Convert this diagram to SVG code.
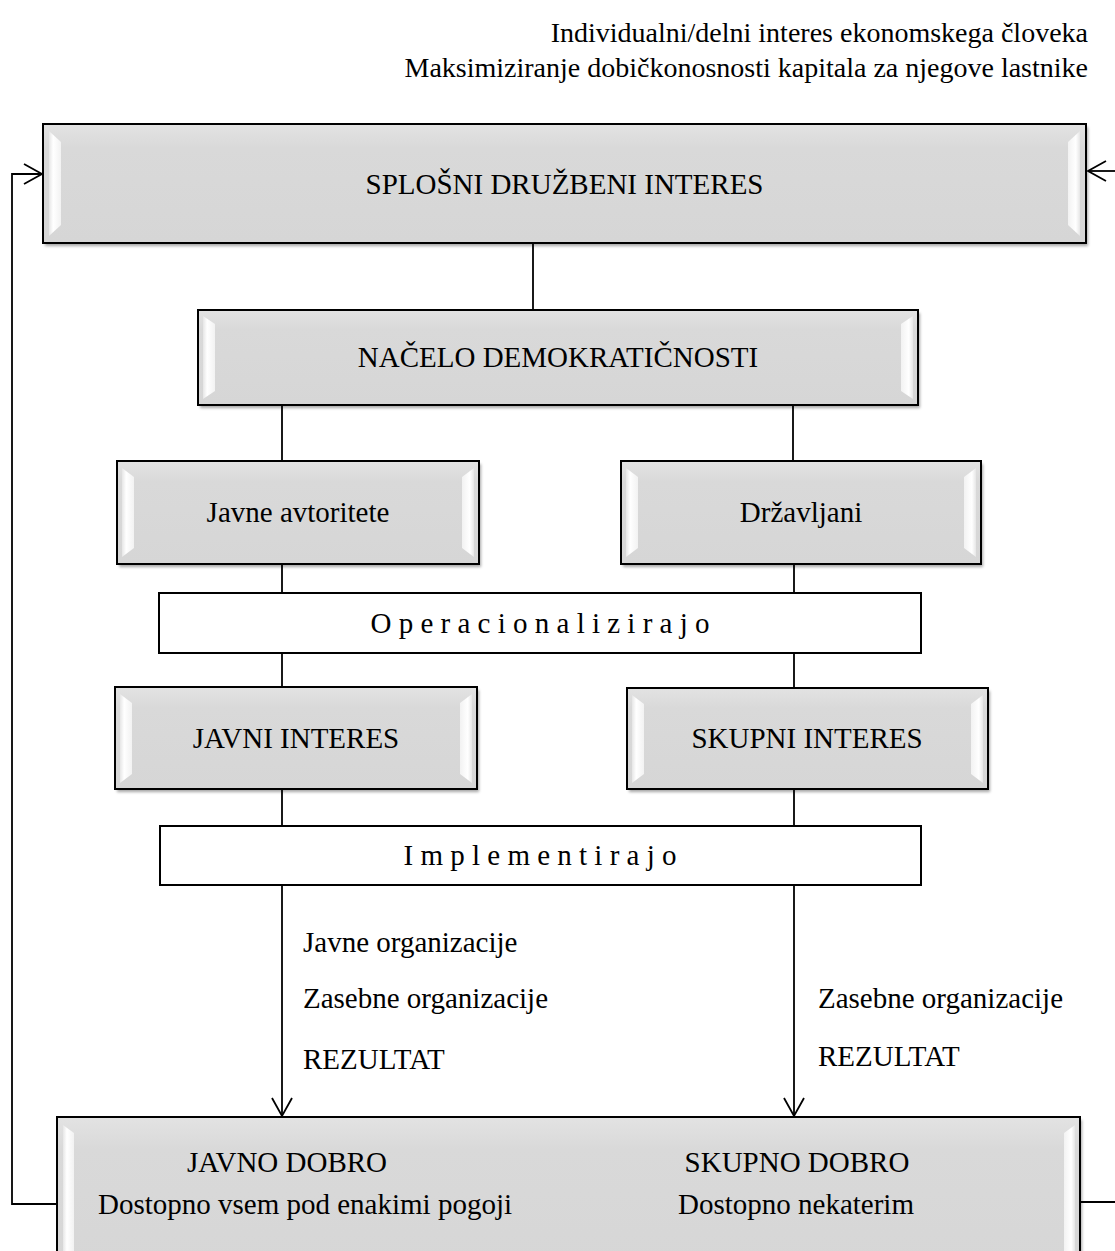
<svg xmlns="http://www.w3.org/2000/svg" width="1115" height="1251" viewBox="0 0 1115 1251">
<defs>
<style>
text{font-family:"Liberation Serif","Times New Roman",serif;font-size:29px;fill:#000}
.c{text-anchor:middle}
.r{text-anchor:end}
.box{fill:url(#face);stroke:#000;stroke-width:2}
.wbox{fill:#fff;stroke:#000;stroke-width:2}
.sh{fill:#000;opacity:.35;filter:url(#blur)}
.bl{fill:url(#bevL)}
.br{fill:url(#bevR)}
.ln{fill:none;stroke:#000;stroke-width:1.8}
</style>
<linearGradient id="face" x1="0" y1="0" x2="0" y2="1">
<stop offset="0" stop-color="#e3e3e3"/>
<stop offset="0.2" stop-color="#d9d9d9"/>
<stop offset="1" stop-color="#d6d6d6"/>
</linearGradient>
<linearGradient id="bevL" x1="0" y1="0" x2="1" y2="0">
<stop offset="0" stop-color="#e6e6e6"/>
<stop offset="0.35" stop-color="#ffffff"/>
<stop offset="1" stop-color="#f2f2f2"/>
</linearGradient>
<linearGradient id="bevR" x1="1" y1="0" x2="0" y2="0">
<stop offset="0" stop-color="#e6e6e6"/>
<stop offset="0.35" stop-color="#ffffff"/>
<stop offset="1" stop-color="#f2f2f2"/>
</linearGradient>
<filter id="blur" x="-5%" y="-5%" width="110%" height="120%"><feGaussianBlur stdDeviation="1.5"/></filter>
<marker id="arr" markerUnits="userSpaceOnUse" markerWidth="22" markerHeight="24" refX="19" refY="11" orient="auto" viewBox="0 0 22 22">
<path d="M1,1 L19,11 L1,21" fill="none" stroke="#000" stroke-width="1.8"/>
</marker>
</defs>

<g id="header">
<text class="r" x="1088" y="42" style="font-size:28px">Individualni/delni interes ekonomskega človeka</text>
<text class="r" x="1088" y="77" style="font-size:28px">Maksimiziranje dobičkonosnosti kapitala za njegove lastnike</text>
</g>

<g id="connectors">
<line class="ln" x1="533" y1="243" x2="533" y2="310"/>
<line class="ln" x1="282" y1="405" x2="282" y2="461"/>
<line class="ln" x1="793" y1="405" x2="793" y2="461"/>
<line class="ln" x1="282" y1="564" x2="282" y2="593"/>
<line class="ln" x1="794" y1="564" x2="794" y2="593"/>
<line class="ln" x1="282" y1="653" x2="282" y2="687"/>
<line class="ln" x1="794" y1="653" x2="794" y2="688"/>
<line class="ln" x1="282" y1="789" x2="282" y2="826"/>
<line class="ln" x1="794" y1="789" x2="794" y2="826"/>
<line class="ln" x1="282" y1="885" x2="282" y2="1116" marker-end="url(#arr)"/>
<line class="ln" x1="794" y1="885" x2="794" y2="1116" marker-end="url(#arr)"/>
<path class="ln" d="M56,1204 H12 V174 H42" marker-end="url(#arr)"/>
<path class="ln" d="M1115,171 H1088" marker-end="url(#arr)"/>
<path class="ln" d="M1080,1202 H1115"/>
<text x="303" y="952">Javne organizacije</text>
<text x="303" y="1008">Zasebne organizacije</text>
<text x="303" y="1069">REZULTAT</text>
<text x="818" y="1008">Zasebne organizacije</text>
<text x="818" y="1066">REZULTAT</text>
</g>

<g id="splosni">
<rect class="sh" x="45" y="127" width="1043" height="119"/>
<rect class="box" x="43" y="124" width="1043" height="119"/>
<polygon class="bl" points="49,131 61,142 61,225 49,236"/>
<polygon class="br" points="1080,131 1068,142 1068,225 1080,236"/>
<text class="c" x="564.5" y="194">SPLOŠNI DRUŽBENI INTERES</text>
</g>

<g id="nacelo">
<rect class="sh" x="200" y="313" width="720" height="95"/>
<rect class="box" x="198" y="310" width="720" height="95"/>
<polygon class="bl" points="203,316 215,324 215,391 203,399"/>
<polygon class="br" points="913,316 901,324 901,391 913,399"/>
<text class="c" x="558" y="367">NAČELO DEMOKRATIČNOSTI</text>
</g>

<g id="javne-avtoritete">
<rect class="sh" x="119" y="464" width="362" height="103"/>
<rect class="box" x="117" y="461" width="362" height="103"/>
<polygon class="bl" points="122,468 134,477 134,548 122,557"/>
<polygon class="br" points="474,468 462,477 462,548 474,557"/>
<text class="c" x="298" y="522">Javne avtoritete</text>
</g>

<g id="drzavljani">
<rect class="sh" x="623" y="464" width="360" height="103"/>
<rect class="box" x="621" y="461" width="360" height="103"/>
<polygon class="bl" points="626,468 638,477 638,548 626,557"/>
<polygon class="br" points="976,468 964,477 964,548 976,557"/>
<text class="c" x="801" y="522">Državljani</text>
</g>

<g id="operacionalizirajo">
<rect class="wbox" x="159" y="593" width="762" height="60"/>
<text class="c" x="540" y="633">O p e r a c i o n a l i z i r a j o</text>
</g>

<g id="javni-interes">
<rect class="sh" x="117" y="690" width="362" height="102"/>
<rect class="box" x="115" y="687" width="362" height="102"/>
<polygon class="bl" points="120,694 132,703 132,774 120,783"/>
<polygon class="br" points="472,694 460,703 460,774 472,783"/>
<text class="c" x="296" y="748">JAVNI INTERES</text>
</g>

<g id="skupni-interes">
<rect class="sh" x="629" y="691" width="361" height="101"/>
<rect class="box" x="627" y="688" width="361" height="101"/>
<polygon class="bl" points="632,695 644,704 644,774 632,783"/>
<polygon class="br" points="983,695 971,704 971,774 983,783"/>
<text class="c" x="807" y="748">SKUPNI INTERES</text>
</g>

<g id="implementirajo">
<rect class="wbox" x="160" y="826" width="761" height="59"/>
<text class="c" x="540" y="865">I m p l e m e n t i r a j o</text>
</g>

<g id="dobro">
<rect class="sh" x="59" y="1120" width="1023" height="160"/>
<rect class="box" x="57" y="1117" width="1023" height="160"/>
<polygon class="bl" points="63,1125 74,1133 74,1270 63,1270"/>
<polygon class="br" points="1075,1125 1064,1133 1064,1270 1075,1270"/>
<text class="c" x="287" y="1172">JAVNO DOBRO</text>
<text class="c" x="305" y="1214">Dostopno vsem pod enakimi pogoji</text>
<text class="c" x="797" y="1172">SKUPNO DOBRO</text>
<text class="c" x="796" y="1214">Dostopno nekaterim</text>
</g>
</svg>
